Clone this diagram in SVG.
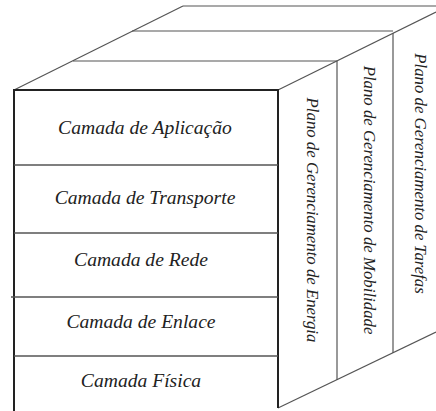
<svg xmlns="http://www.w3.org/2000/svg" width="436" height="411" viewBox="0 0 436 411">
<style>
.thin{stroke:#555;stroke-width:1.2;fill:none}
.thick{stroke:#222;stroke-width:2;fill:none}
.div{stroke:#555;stroke-width:1.4;fill:none}
.lbl{font-family:"Liberation Serif","Times New Roman",serif;font-style:italic;font-size:19.6px;fill:#222;text-anchor:middle}
.vl{font-family:"Liberation Serif","Times New Roman",serif;font-style:italic;font-size:16.8px;fill:#222;text-anchor:middle}
</style>
<rect width="436" height="411" fill="#fff"/>
<g id="connectors">
<line class="thin" x1="183" y1="6" x2="436" y2="6"/>
<line class="thin" x1="132" y1="31" x2="393" y2="31"/>
<line class="thin" x1="73" y1="61" x2="337" y2="61"/>
<line class="thin" x1="14" y1="90" x2="183" y2="6"/>
<line class="thin" x1="278" y1="90" x2="436" y2="12"/>
<line class="thin" x1="278" y1="408" x2="436" y2="332"/>
<line class="thin" x1="337" y1="61" x2="337" y2="380"/>
<line class="thin" x1="393" y1="33" x2="393" y2="353"/>
</g>
<g id="front-box">
<line class="thick" x1="13" y1="90" x2="279" y2="90"/>
<line class="thick" x1="14" y1="89" x2="14" y2="411"/>
<line class="thick" x1="278" y1="89" x2="278" y2="408"/>
</g>
<g id="camada-aplicacao"><text class="lbl" x="145" y="134">Camada de Aplicação</text></g>
<g id="camada-transporte"><line class="div" x1="14" y1="165" x2="278" y2="165"/><text class="lbl" x="145" y="204">Camada de Transporte</text></g>
<g id="camada-rede"><line class="div" x1="14" y1="233" x2="278" y2="233"/><text class="lbl" x="141" y="266">Camada de Rede</text></g>
<g id="camada-enlace"><line class="div" x1="11" y1="297" x2="278" y2="297"/><text class="lbl" x="141" y="328">Camada de Enlace</text></g>
<g id="camada-fisica"><line class="div" x1="14" y1="356" x2="278" y2="356"/><text class="lbl" x="141" y="387">Camada Física</text></g>
<g id="plano-energia"><text class="vl" transform="translate(307,220) rotate(90)">Plano de Gerenciamento de Energia</text></g>
<g id="plano-mobilidade"><text class="vl" transform="translate(364,200) rotate(90)">Plano de Gerenciamento de Mobilidade</text></g>
<g id="plano-tarefas"><text class="vl" transform="translate(415,173.5) rotate(90)">Plano de Gerenciamento de Tarefas</text></g>
</svg>
